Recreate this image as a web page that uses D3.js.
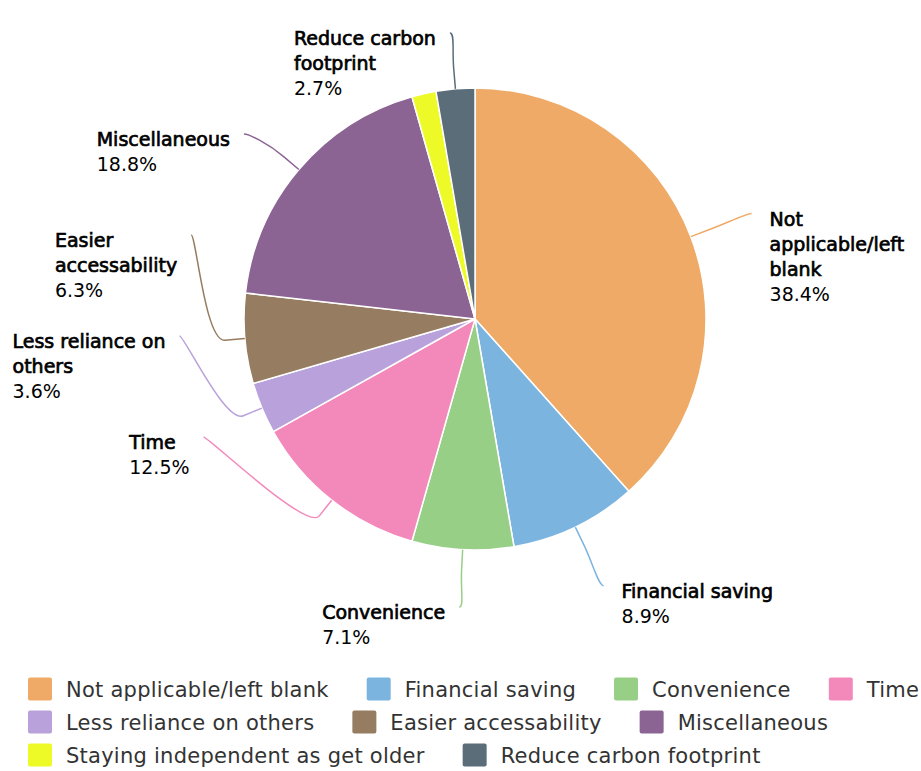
<!DOCTYPE html>
<html>
<head>
<meta charset="utf-8">
<script src="https://cdn.jsdelivr.net/npm/d3@7"></script>
<style>
  html, body { margin: 0; padding: 0; background: #ffffff; }
  svg { display: block; font-family: "DejaVu Sans", sans-serif; }
</style>
</head>
<body>
<svg id="chart" width="921" height="771"></svg>
<script>
// Reasons given (share of respondents, %)
const categories = [
  "Not applicable/left blank",
  "Financial saving",
  "Convenience",
  "Time",
  "Less reliance on others",
  "Easier accessability",
  "Miscellaneous",
  "Staying independent as get older",
  "Reduce carbon footprint"
];
const shares = [38.4, 8.9, 7.1, 12.5, 3.6, 6.3, 18.8, 1.7, 2.7];
const colors = [
  "#EEAA66", "#7CB4E0", "#98CF86", "#F389BA", "#B9A2DC",
  "#967C60", "#8B6494", "#EEF928", "#5C6D7A"
];

// Layout
const W = 921, H = 771;
const cx = 475, cy = 319, radius = 231;
const labelDistance = 65;      // connector end, measured from the rim
const breakOffset = 20;        // radial stub before the connector bends
const labelTop = 33, labelBottom = 607;
const columnPitch = 101;       // spacing of the stacked left-hand labels
const minLabelShare = 2;       // smaller slices get no label
const wrapWidth = 165;
const labelFont = 19, lineStep = 25;
const legendFont = 21, legendSpacing = 0.25, legendRowStep = 33, legendTop = 689;

const svg = d3.select("#chart");
const data = categories.map((c, i) => ({ name: c, value: shares[i], color: colors[i] }));

const pie = d3.pie().sort(null).value(d => d.value);
const arcs = pie(data);
const arc = d3.arc().innerRadius(0).outerRadius(radius);

// Slices
svg.append("g")
  .attr("transform", `translate(${cx},${cy})`)
  .selectAll("path")
  .data(arcs)
  .join("path")
  .attr("d", arc)
  .attr("fill", d => d.data.color)
  .attr("stroke", "#ffffff")
  .attr("stroke-width", 1.5)
  .attr("stroke-linejoin", "round");

// Text measuring helper
const measurer = svg.append("text").attr("visibility", "hidden");
function textWidth(str, size, spacing = 0) {
  measurer.attr("font-size", size).attr("letter-spacing", spacing).text(str);
  return measurer.node().getComputedTextLength();
}
function wrap(str, size, maxW) {
  const words = str.split(" ");
  const lines = [];
  let cur = "";
  words.forEach(w => {
    const t = cur ? cur + " " + w : w;
    if (cur && textWidth(t, size) > maxW) { lines.push(cur); cur = w; }
    else cur = t;
  });
  if (cur) lines.push(cur);
  return lines;
}

// Label anchor positions
const R = radius + labelDistance;
const labels = arcs.filter(a => a.data.value >= minLabelShare).map(a => {
  const mid = (a.startAngle + a.endAngle) / 2;
  const s = Math.sin(mid), c = Math.cos(mid);
  return {
    arc: a,
    left: s < 0,
    nx: cx + R * s, ny: cy - R * c,
    tx: cx + radius * s, ty: cy - radius * c,
    bx: cx + (radius + breakOffset) * s, by: cy - (radius + breakOffset) * c
  };
});
const onCircleX = (y, left) => cx + (left ? -1 : 1) * Math.sqrt(Math.max(0, R * R - (y - cy) * (y - cy)));

labels.forEach(l => {
  if (l.ny < labelTop || l.ny > labelBottom) {
    l.pinned = true;
    l.y = Math.max(labelTop, Math.min(labelBottom, l.ny));
    l.x = l.nx;
  }
});
// right half: natural positions
labels.filter(l => !l.left && !l.pinned).forEach(l => { l.y = l.ny; l.x = onCircleX(l.y, false); });
// left half is crowded: stack its labels evenly from the top
const leftCol = labels.filter(l => l.left && !(l.pinned && l.ny > labelBottom)).sort((a, b) => a.ny - b.ny);
leftCol.forEach((l, i) => {
  if (i === 0) { if (!l.pinned) { l.y = Math.max(labelTop, l.ny); l.x = onCircleX(l.y, true); } return; }
  l.y = leftCol[i - 1].y + columnPitch;
  l.x = onCircleX(l.y, true);
});

// Connectors
const gConn = svg.append("g").attr("fill", "none").attr("stroke-width", 1.5);
labels.forEach(l => {
  const p = d3.path();
  p.moveTo(l.x, l.y);
  p.bezierCurveTo(l.x + (l.left ? 5 : -5), l.y, 2 * l.bx - l.tx, 2 * l.by - l.ty, l.bx, l.by);
  p.lineTo(l.tx, l.ty);
  gConn.append("path").attr("d", p.toString()).attr("stroke", l.arc.data.color);
});

// Label text
const gLab = svg.append("g").attr("font-size", labelFont).attr("fill", "#000000");
labels.forEach(l => {
  const nameLines = wrap(l.arc.data.name, labelFont, wrapWidth);
  const pct = l.arc.data.value.toFixed(1) + "%";
  const widths = nameLines.map(t => textWidth(t, labelFont)).concat([textWidth(pct, labelFont)]);
  const boxW = d3.max(widths);
  const x0 = l.left ? l.x - 14 - boxW : l.x + 18;
  const t = gLab.append("text").attr("x", x0).attr("y", l.y + 12);
  nameLines.forEach((line, i) => {
    t.append("tspan").attr("x", x0).attr("y", l.y + 12 + i * lineStep)
      .attr("stroke", "#000000").attr("stroke-width", 0.7)
      .text(line);
  });
  t.append("tspan").attr("x", x0).attr("y", l.y + 12 + nameLines.length * lineStep).text(pct);
});

// Legend
const gLeg = svg.append("g").attr("font-size", legendFont).attr("letter-spacing", legendSpacing).attr("fill", "#333333");
let lx = 28, row = 0;
const symW = 24, symH = 23, symGap = 14, itemGap = 38;
data.forEach(d => {
  const tw = textWidth(d.name, legendFont, legendSpacing);
  const itemW = symW + symGap + tw;
  if (lx + itemW > W + 2 && lx > 28) { row += 1; lx = 28; }
  const yc = legendTop + row * legendRowStep;
  gLeg.append("rect").attr("x", lx).attr("y", yc - symH / 2).attr("width", symW).attr("height", symH)
    .attr("rx", 2).attr("fill", d.color);
  gLeg.append("text").attr("x", lx + symW + symGap).attr("y", yc).attr("dy", "0.36em").text(d.name);
  lx += itemW + itemGap;
});
measurer.remove();
</script>
</body>
</html>
